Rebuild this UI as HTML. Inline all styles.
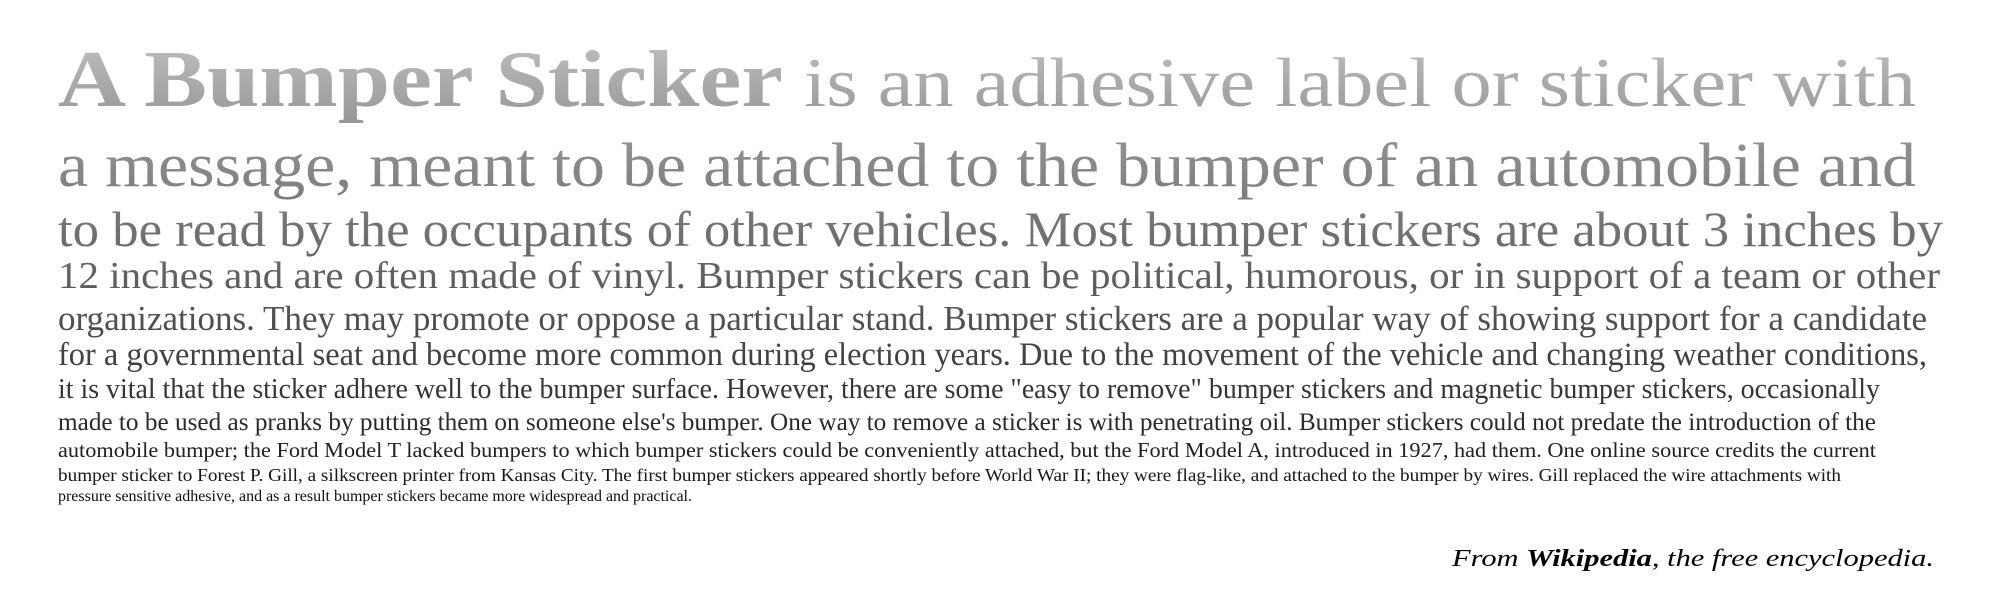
<!DOCTYPE html>
<html><head><meta charset="utf-8"><style>
html,body{margin:0;padding:0;background:#fff;width:2000px;height:600px;overflow:hidden}
svg{display:block}
text{font-family:"Liberation Serif",serif}
</style></head><body>
<svg width="2000" height="600" viewBox="0 0 2000 600" xmlns="http://www.w3.org/2000/svg">
<defs>
<linearGradient id="g" gradientUnits="userSpaceOnUse" x1="0" y1="45" x2="0" y2="520">
<stop offset="0" stop-color="#bcbcbc"/>
<stop offset="0.15" stop-color="#9a9a9a"/>
<stop offset="0.4" stop-color="#707070"/>
<stop offset="0.7" stop-color="#3a3a3a"/>
<stop offset="1" stop-color="#0a0a0a"/>
</linearGradient>
</defs>
<g fill="url(#g)">
<text x="58" y="106" font-size="80" font-weight="bold" textLength="725" lengthAdjust="spacingAndGlyphs">A Bumper Sticker</text>
<text x="804" y="106" font-size="70" textLength="1112" lengthAdjust="spacingAndGlyphs">is an adhesive label or sticker with</text>
<text x="58" y="186" font-size="62" textLength="1858" lengthAdjust="spacingAndGlyphs">a message, meant to be attached to the bumper of an automobile and</text>
<text x="58" y="246" font-size="50" textLength="1885" lengthAdjust="spacingAndGlyphs">to be read by the occupants of other vehicles. Most bumper stickers are about 3 inches by</text>
<text x="58" y="288" font-size="38" textLength="1882" lengthAdjust="spacingAndGlyphs">12 inches and are often made of vinyl.  Bumper stickers can be political, humorous, or in support of a team or other</text>
<text x="58" y="330" font-size="35" textLength="1869" lengthAdjust="spacingAndGlyphs">organizations. They may promote or oppose a particular stand. Bumper stickers are a popular way of showing support for a candidate</text>
<text x="58" y="365" font-size="33" textLength="1869" lengthAdjust="spacingAndGlyphs">for a governmental seat and become more common during election years. Due to the movement of the vehicle and changing weather conditions,</text>
<text x="58" y="398" font-size="29" textLength="1822" lengthAdjust="spacingAndGlyphs">it is vital that the sticker adhere well to the bumper surface. However, there are some "easy to remove" bumper stickers and magnetic bumper stickers, occasionally</text>
<text x="58" y="430" font-size="25" textLength="1818" lengthAdjust="spacingAndGlyphs">made to be used as pranks by putting them on someone else's bumper. One way to remove a sticker is with penetrating oil.  Bumper stickers could not predate the introduction of the</text>
<text x="58" y="457" font-size="21" textLength="1818" lengthAdjust="spacingAndGlyphs">automobile bumper; the Ford Model T lacked bumpers to which bumper stickers could be conveniently attached, but the Ford Model A, introduced in 1927, had them. One online source credits the current</text>
<text x="58" y="481" font-size="18" textLength="1783" lengthAdjust="spacingAndGlyphs">bumper sticker to Forest P. Gill, a silkscreen printer from Kansas City.  The first bumper stickers appeared shortly before World War II; they were flag-like, and attached to the bumper by wires. Gill replaced the wire attachments with</text>
<text x="58" y="501" font-size="16" textLength="634" lengthAdjust="spacingAndGlyphs">pressure sensitive adhesive, and as a result bumper stickers became more widespread and practical.</text>
</g>
<text x="1452" y="566" font-size="24" font-style="italic" fill="#000" textLength="482" lengthAdjust="spacingAndGlyphs">From <tspan font-weight="bold">Wikipedia</tspan>, the free encyclopedia.</text>
</svg>
</body></html>
